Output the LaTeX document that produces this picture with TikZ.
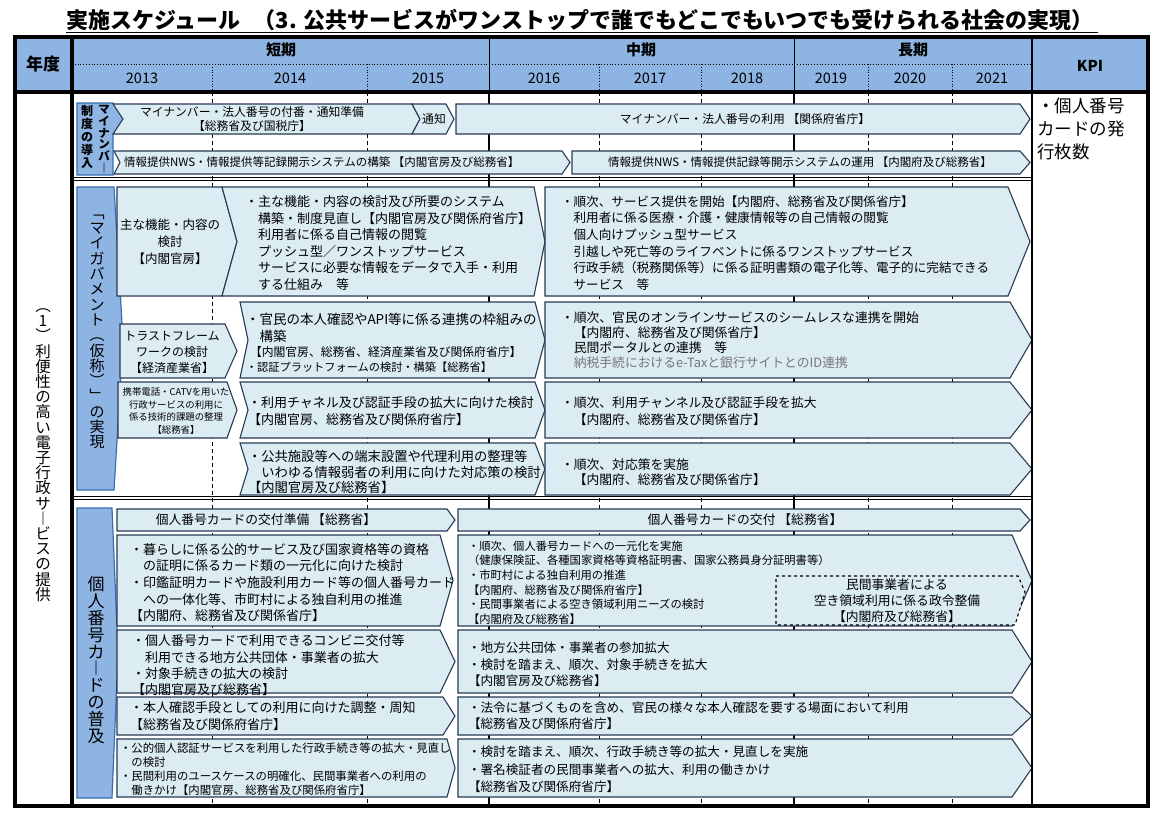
\documentclass[tikz,border=0pt]{standalone}
\usepackage{fontspec}
\setmainfont{Noto Sans CJK JP}
\definecolor{hdr}{RGB}{141,180,226}
\definecolor{lab}{RGB}{141,180,226}
\definecolor{labline}{RGB}{55,110,180}
\definecolor{bfill}{RGB}{219,236,243}
\definecolor{bline}{RGB}{40,58,85}
\definecolor{gtext}{RGB}{120,120,120}
\newcommand\myfs[2]{\fontsize{#1}{#2}\selectfont\lineskiplimit=-100pt\lineskip=0pt\relax}
\newcommand\myind{\hspace*{1em}}
\newcommand\mybox[6]{\draw[abox] (#1,#2) -- (#3,#2) -- (#5,{(#2+#4)/2}) -- (#3,#4) -- (#1,#4) -- ({#1+#6},{(#2+#4)/2}) -- cycle;}
\begin{document}
\begin{tikzpicture}[x=1pt,y=-1pt,
  abox/.style={fill=bfill, draw=bline, line width=1.1pt, line join=miter},
  lbox/.style={fill=lab, draw=labline, line width=1.2pt},
  txt/.style={inner sep=0pt, outer sep=0pt, align=left, anchor=west},
  ctxt/.style={inner sep=0pt, outer sep=0pt, align=center},
  vtxt/.style={inner sep=0pt, outer sep=0pt, align=center},
  grid/.style={line width=0.8pt, dash pattern=on 4pt off 3pt}]
\useasboundingbox (0,0) rectangle (1166,819);
\fill[white] (0,0) rectangle (1166,819);

% title
\node[inner sep=0pt, font=\myfs{22}{26}\bfseries] (title) at (580,20) {実施スケジュール\hspace{0.6em}（3. 公共サービスがワンストップで誰でもどこでもいつでも受けられる社会の実現）};
\draw[line width=1.3pt] ([yshift=-1.5pt]title.south west) -- ([yshift=-1.5pt,xshift=4pt]title.south east);

% header
\fill[hdr] (15,37) rectangle (1148,92);
\draw[dotted, line width=0.8pt] (72,64) -- (1032,64);
\foreach \x in {212,367,599,701,868,952} \draw[dotted, line width=0.8pt] (\x,64) -- (\x,92);
\foreach \x in {489,794} \draw[line width=1pt] (\x,37) -- (\x,92);
\node[font=\myfs{17}{20}\bfseries] (hyear) at (43,64) {年度};
\node[font=\myfs{15}{18}\bfseries] (hs) at (281,50) {短期};
\node[font=\myfs{15}{18}\bfseries] (hm) at (641,50) {中期};
\node[font=\myfs{15}{18}\bfseries] (hl) at (913,50) {長期};
\node[font=\myfs{15}{18}\bfseries] (hkpi) at (1090,66) {KPI};
\foreach \x/\y [count=\i] in {142/2013,290/2014,428/2015,544/2016,650/2017,747/2018,831/2019,910/2020,992/2021}
  \node[font=\myfs{14.5}{17}] (yr\i) at (\x,78) {\y};

% body grid
\foreach \x in {212,367,599,701,868,952} \draw[grid] (\x,92) -- (\x,806);
\foreach \x in {489,794} \draw[line width=1.2pt] (\x,92) -- (\x,806);
\draw[line width=0.8pt] (72,177) -- (1032,177) (72,180) -- (1032,180);
\draw[line width=0.8pt] (72,496) -- (1032,496) (72,499) -- (1032,499);

% column 1 text
\node[vtxt, font=\myfs{15.5}{15.2}] (c1) at (43,455) {︵\\1\\︶\\利\\便\\性\\の\\高\\い\\電\\子\\行\\政\\サ\\︱\\ビ\\ス\\の\\提\\供};

% KPI text
\node[txt, font=\myfs{17.5}{23}] (kpi) at (1037,129) {・個人番号\\カードの発\\行枚数};

% ===== section 1 =====
\draw[lbox] (77,103) -- (113,103) -- (123,119) -- (113,135) -- (113,175) -- (77,175) -- cycle;
\node[vtxt, font=\myfs{11.5}{11.8}\bfseries] (s1a) at (104,139) {マ\\イ\\ナ\\ン\\バ\\︱};
\node[vtxt, font=\myfs{12}{13}\bfseries] (s1b) at (87,137) {制\\度\\の\\導\\入};

\mybox{113}{104}{412}{134}{420}{10}
\node[ctxt, font=\myfs{11.8}{14.5}] (a) at (252,119) {マイナンバー・法人番号の付番・通知準備\\【総務省及び国税庁】};
\mybox{412}{104}{446}{134}{454}{8}
\node[ctxt, font=\myfs{11.8}{14}] (b) at (434,119) {通知};
\mybox{456}{104}{1020}{134}{1030}{0}
\node[ctxt, font=\myfs{11.8}{14}] (c) at (745,119) {マイナンバー・法人番号の利用 【関係府省庁】};
\mybox{114}{151}{562}{174}{570}{6}
\node[txt, font=\myfs{11.5}{14}] (d) at (124,162.5) {情報提供NWS・情報提供等記録開示システムの構築 【内閣官房及び総務省】};
\mybox{572}{151}{1020}{174}{1030}{0}
\node[ctxt, font=\myfs{11.5}{14}] (e) at (800,162.5) {情報提供NWS・情報提供記録等開示システムの運用 【内閣府及び総務省】};

% ===== section 2 =====
\draw[lbox] (77,187) -- (114,187) -- (123,340) -- (114,490) -- (77,490) -- cycle;
\node[vtxt, font=\myfs{15}{15.3}] (s2) at (97,332) {﹁\\マ\\イ\\ガ\\バ\\メ\\ン\\ト\\︵\\仮\\称\\︶\\﹂\\の\\実\\現};

\mybox{117}{187}{222}{296}{237}{0}
\node[ctxt, font=\myfs{12.5}{17}] (f) at (170,242) {主な機能・内容の\\検討\\【内閣官房】};
\mybox{222}{187}{534}{296}{545}{15}
\node[txt, font=\myfs{13}{16.5}] (g) at (245,243) {・主な機能・内容の検討及び所要のシステム\\\myind 構築・制度見直し【内閣官房及び関係府省庁】\\\myind 利用者に係る自己情報の閲覧\\\myind プッシュ型／ワンストップサービス\\\myind サービスに必要な情報をデータで入手・利用\\\myind する仕組み　等};
\mybox{545}{187}{1008}{296}{1030}{0}
\node[txt, font=\myfs{12.6}{16.6}] (h) at (561,243) {・順次、サービス提供を開始【内閣府、総務省及び関係省庁】\\\myind 利用者に係る医療・介護・健康情報等の自己情報の閲覧\\\myind 個人向けプッシュ型サービス\\\myind 引越しや死亡等のライフベントに係るワンストップサービス\\\myind 行政手続（税務関係等）に係る証明書類の電子化等、電子的に完結できる\\\myind サービス　等};

\mybox{120}{324}{225}{378}{237}{0}
\node[ctxt, font=\myfs{12}{16}] (i) at (172,352) {トラストフレーム\\ワークの検討\\【経済産業省】};
\mybox{240}{302}{535}{378}{545}{8}
\node[txt, font=\myfs{13.5}{16}] (j1) at (246,319) {・官民の本人確認やAPI等に係る連携の枠組みの};
\node[txt, font=\myfs{13.5}{16}] (j2) at (246,336) {\myind 構築};
\node[txt, font=\myfs{11.8}{14}] (j3) at (250,352) {【内閣官房、総務省、経済産業省及び関係府省庁】};
\node[txt, font=\myfs{11.2}{14}] (j4) at (246,367) {・認証プラットフォームの検討・構築【総務省】};
\mybox{545}{302}{1010}{378}{1032}{0}
\node[txt, font=\myfs{12.8}{15}] (k) at (561,340) {・順次、官民のオンラインサービスのシームレスな連携を開始\\\myind【内閣府、総務省及び関係省庁】\\\myind 民間ポータルとの連携　等\\\myind {\color{gtext}納税手続におけるe-Taxと銀行サイトとのID連携}};

\mybox{118}{382}{227}{438}{237}{0}
\node[ctxt, font=\myfs{9.4}{12.8}] (l) at (176,411) {携帯電話・CATVを用いた\\行政サービスの利用に\\係る技術的課題の整理\\【総務省】};
\mybox{240}{382}{535}{438}{545}{8}
\node[txt, font=\myfs{13}{17}] (m) at (248,411) {・利用チャネル及び認証手段の拡大に向けた検討\\【内閣官房、総務省及び関係府省庁】};
\mybox{545}{382}{1010}{438}{1032}{0}
\node[txt, font=\myfs{12.8}{17}] (n) at (561,411) {・順次、利用チャンネル及び認証手段を拡大\\\myind【内閣府、総務省及び関係省庁】};

\mybox{240}{443}{535}{495}{545}{8}
\node[txt, font=\myfs{13.3}{15.5}] (o) at (248,472) {・公共施設等への端末設置や代理利用の整理等\\\myind いわゆる情報弱者の利用に向けた対応策の検討\\【内閣官房及び総務省】};
\mybox{545}{443}{1010}{495}{1032}{0}
\node[txt, font=\myfs{12.8}{15.5}] (p) at (561,472) {・順次、対応策を実施\\\myind【内閣府、総務省及び関係省庁】};

% ===== section 3 =====
\draw[lbox] (77,508) -- (112,508) -- (118,653) -- (112,798) -- (77,798) -- cycle;
\node[vtxt, font=\myfs{17}{16.8}] (s3) at (96,660) {個\\人\\番\\号\\カ\\︱\\ド\\の\\普\\及};

\mybox{117}{509}{447}{531}{455}{0}
\node[ctxt, font=\myfs{12.8}{15}] (r) at (266,520) {個人番号カードの交付準備 【総務省】};
\mybox{458}{509}{1020}{531}{1030}{0}
\node[ctxt, font=\myfs{12.8}{15}] (s) at (745,520) {個人番号カードの交付 【総務省】};

\mybox{117}{535}{440}{626}{453}{0}
\node[txt, font=\myfs{13}{16.7}] (t) at (130,582.5) {・暮らしに係る公的サービス及び国家資格等の資格\\\myind の証明に係るカード類の一元化に向けた検討\\・印鑑証明カードや施設利用カード等の個人番号カード\\\myind への一体化等、市町村による独自利用の推進\\【内閣府、総務省及び関係省庁】};
\mybox{458}{535}{1012}{626}{1032}{0}
\node[txt, font=\myfs{11.3}{14.6}] (u) at (468,582.5) {・順次、個人番号カードへの一元化を実施\\（健康保険証、各種国家資格等資格証明書、国家公務員身分証明書等）\\・市町村による独自利用の推進\\【内閣府、総務省及び関係府省庁】\\・民間事業者による空き領域利用ニーズの検討\\【内閣府及び総務省】};
\draw[dashed, line width=1.1pt, fill=bfill] (776,576) -- (1018,576) -- (1025,592) -- (1015,625) -- (776,625) -- cycle;
\node[ctxt, font=\myfs{12.8}{16}] (v) at (897,600.5) {民間事業者による\\空き領域利用に係る政令整備\\【内閣府及び総務省】};

\mybox{117}{630}{440}{693}{455}{0}
\node[txt, font=\myfs{13}{16.3}] (w) at (132,665.5) {・個人番号カードで利用できるコンビニ交付等\\\myind 利用できる地方公共団体・事業者の拡大\\・対象手続きの拡大の検討\\【内閣官房及び総務省】};
\mybox{458}{630}{1012}{693}{1032}{0}
\node[txt, font=\myfs{12.6}{16.5}] (x) at (468,664.5) {・地方公共団体・事業者の参加拡大\\・検討を踏まえ、順次、対象手続きを拡大\\【内閣官房及び総務省】};

\mybox{117}{697}{443}{735}{455}{0}
\node[txt, font=\myfs{13}{17}] (y) at (130,716.5) {・本人確認手段としての利用に向けた調整・周知\\【総務省及び関係府省庁】};
\mybox{458}{697}{1012}{735}{1032}{0}
\node[txt, font=\myfs{12.6}{16}] (z) at (468,716) {・法令に基づくものを含め、官民の様々な本人確認を要する場面において利用\\【総務省及び関係府省庁】};

\mybox{117}{739}{447}{797}{455}{0}
\node[txt, font=\myfs{11.4}{14}] (aa) at (120,769) {・公的個人認証サービスを利用した行政手続き等の拡大・見直し\\\myind の検討\\・民間利用のユースケースの明確化、民間事業者への利用の\\\myind 働きかけ【内閣官房、総務省及び関係府省庁】};
\mybox{458}{739}{1012}{797}{1032}{0}
\node[txt, font=\myfs{12.6}{17.5}] (ab) at (468,769.5) {・検討を踏まえ、順次、行政手続き等の拡大・見直しを実施\\・署名検証者の民間事業者への拡大、利用の働きかけ\\【総務省及び関係府省庁】};

% frame
\draw[line width=2.5pt] (1032,37) -- (1032,806);
\draw[line width=3.5pt] (72,37) -- (72,806);
\draw[line width=3.5pt] (15,92) -- (1148,92);
\draw[line width=3.5pt] (15,37) rectangle (1148,806);
\end{tikzpicture}
\end{document}
